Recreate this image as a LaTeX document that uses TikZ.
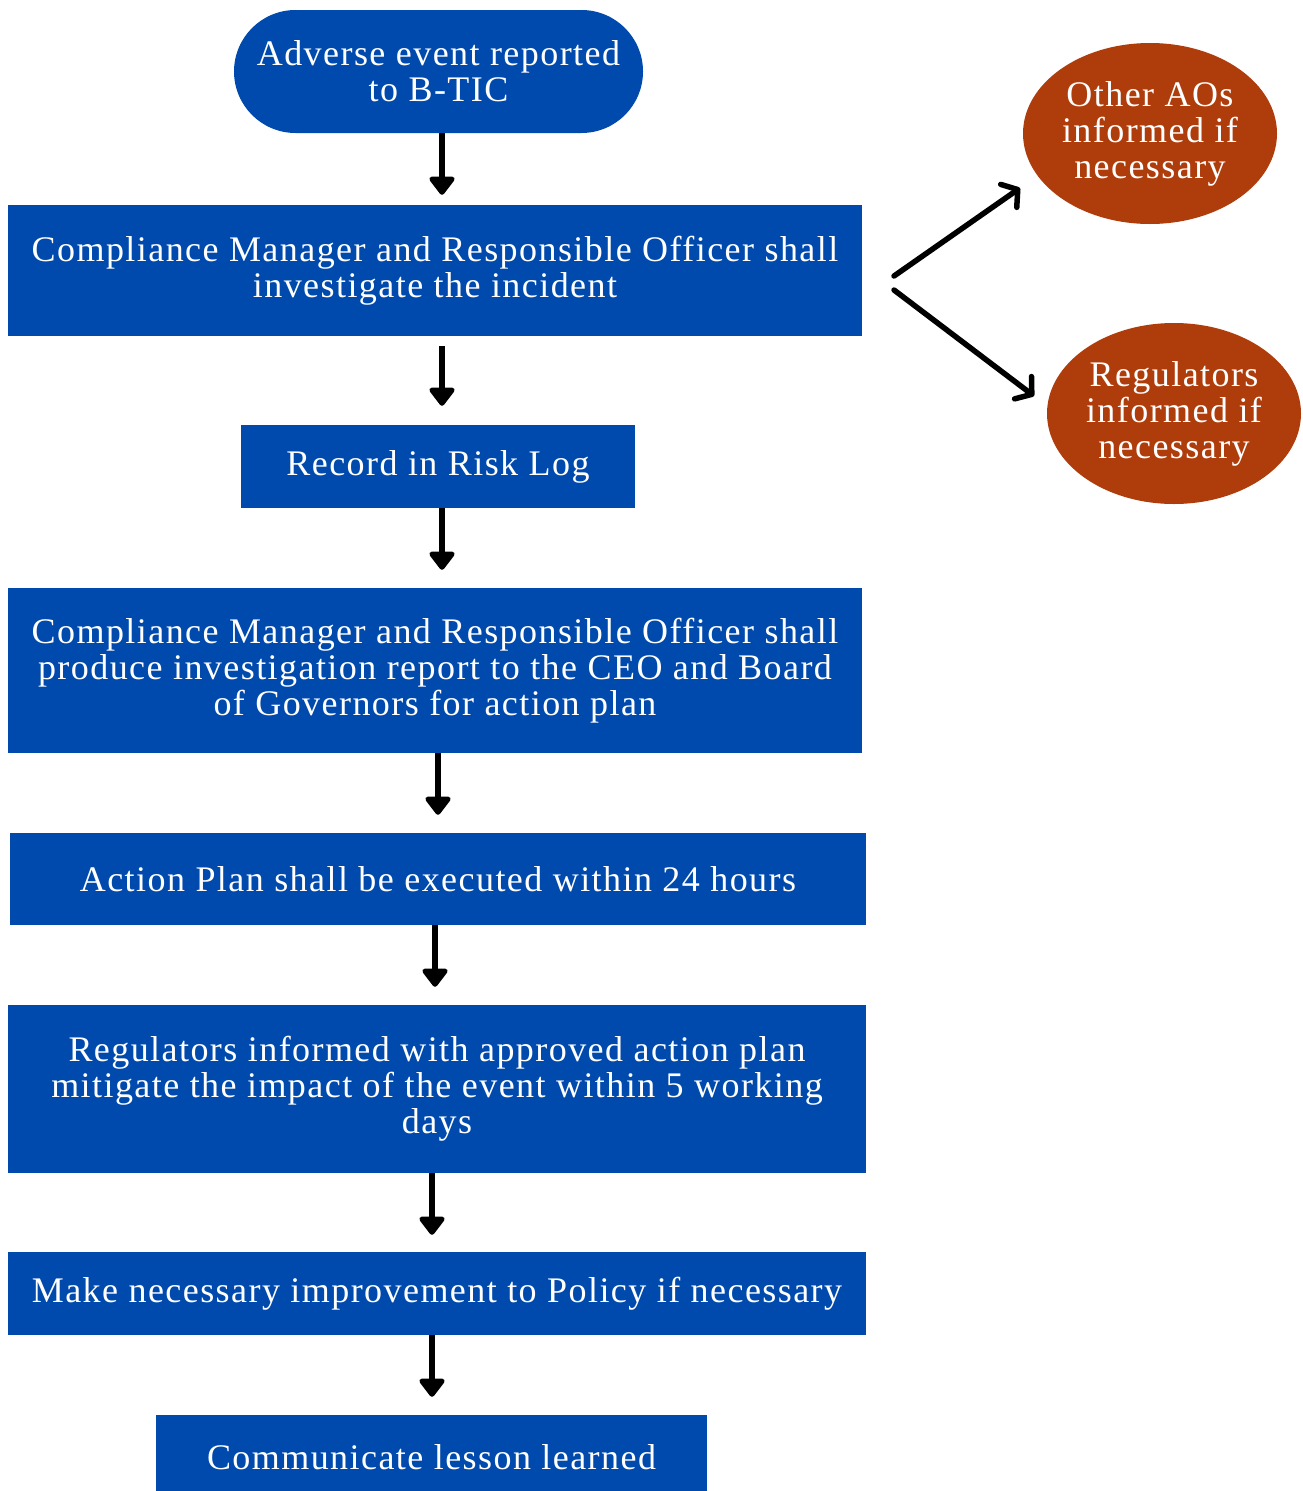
\documentclass[tikz,border=0pt]{standalone}
\usepackage{fontspec}
\setmainfont[LetterSpace=4]{Liberation Serif}
\usetikzlibrary{shapes.misc, shapes.geometric, arrows.meta, calc, positioning}
\definecolor{stepblue}{HTML}{004AAD}
\definecolor{notered}{HTML}{AF3D0C}
\newcommand{\flowfont}{\fontsize{36}{36}\selectfont}
\tikzset{
  % passo del processo
  stepbox/.style={rectangle, fill=stepblue, text=white, align=center,
    inner sep=0pt, font=\flowfont},
  % inizio del processo
  startbox/.style={rounded rectangle, fill=stepblue, text=white, align=center,
    inner sep=0pt, font=\flowfont},
  % chi viene informato
  notify/.style={ellipse, fill=notered, text=white, align=center,
    inner sep=0pt, font=\flowfont},
  % frecce
  flow/.style={-{Triangle[length=20pt, width=29pt, round]}, line width=6.5pt},
  branch/.style={-{Straight Barb[length=11pt, width=28pt, round]}, line width=5.5pt,
    line cap=round},
}
\begin{document}
\begin{tikzpicture}[x=1pt, y=-1pt]
  \useasboundingbox (0,0) rectangle (1303,1491);
  \node[startbox, minimum width=409pt, minimum height=123pt] (start) at (438.5,71.5)
    {Adverse event reported\\to B-TIC};
  \node[stepbox, minimum width=854pt, minimum height=131pt] (invest) at (435,270.5)
    {Compliance Manager and Responsible Officer shall\\investigate the incident};
  \node[stepbox, minimum width=394pt, minimum height=83pt] (risklog) at (438,466.5)
    {Record in Risk Log};
  \node[stepbox, minimum width=854pt, minimum height=165pt] (report) at (435,670.5)
    {Compliance Manager and Responsible Officer shall\\produce investigation report to the CEO and Board\\of Governors for action plan};
  \node[stepbox, minimum width=856pt, minimum height=92pt] (execute) at (438,879)
    {Action Plan shall be executed within 24 hours};
  \node[stepbox, minimum width=858pt, minimum height=168pt] (mitigate) at (437,1089)
    {Regulators informed with approved action plan\\mitigate the impact of the event within 5 working\\days};
  \node[stepbox, minimum width=858pt, minimum height=83pt] (policy) at (437,1293.5)
    {Make necessary improvement to Policy if necessary};
  \node[stepbox, minimum width=551pt, minimum height=84pt] (lesson) at (431.5,1457)
    {Communicate lesson learned};
  \node[notify, minimum width=254pt, minimum height=181pt] (aos) at (1150,133.5)
    {Other AOs\\informed if\\necessary};
  \node[notify, minimum width=254pt, minimum height=181pt] (regs) at (1174,413.5)
    {Regulators\\informed if\\necessary};

  % flusso principale
  \draw[flow, shorten >=10pt] ([xshift=3.5pt]start.south) -- ([xshift=3.5pt]start.south |- invest.north);
  \draw[flow, shorten <=10pt, shorten >=19pt] ([xshift=7pt]invest.south) -- ([xshift=7pt]invest.south |- risklog.north);
  \draw[flow, shorten >=18pt] ([xshift=4pt]risklog.south) -- ([xshift=4pt]risklog.south |- report.north);
  \draw[flow, shorten >=18pt] ([xshift=3pt]report.south) -- ([xshift=3pt]report.south |- execute.north);
  \draw[flow, shorten >=18pt] ([xshift=-3pt]execute.south) -- ([xshift=-3pt]execute.south |- mitigate.north);
  \draw[flow, shorten >=17pt] ([xshift=-5pt]mitigate.south) -- ([xshift=-5pt]mitigate.south |- policy.north);
  \draw[flow, shorten >=18pt] ([xshift=-5pt]policy.south) -- ([xshift=-5pt]policy.south |- lesson.north);

  % rami verso chi viene informato
  \coordinate (fork up) at (894,276);
  \coordinate (fork down) at (894,290);
  \coordinate (aos tip) at (1020,188);
  \coordinate (regs tip) at (1034,396);
  \draw[branch] (fork up) -- (aos tip);
  \draw[branch] (fork down) -- (regs tip);
\end{tikzpicture}
\end{document}
